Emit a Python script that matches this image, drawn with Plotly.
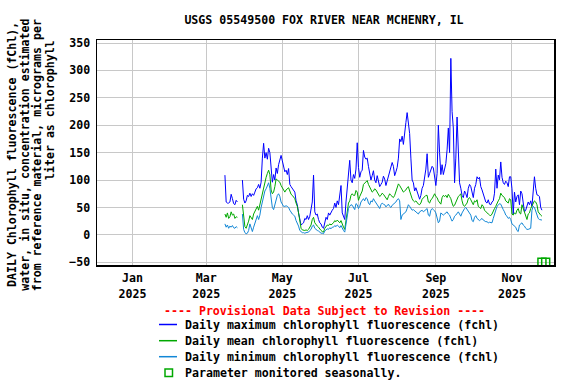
import plotly.graph_objects as go
import pandas as pd

# ---------------- data ----------------
start_date = "2025-03-16"
end_date = "2025-11-25"

daily_max = [
    109, 60, 58, 58, 60, 74, 66, 57, 55, 63, 60,
    None, None, None,
    100, 65, 58, 62, 72, 70, 76, 70, 75, 72, 78, 84, 86, 92, 85, 96, 140, 167, 140, 150,
    138, 158, 150, 120, 96, 110, 100, 122, 112, 128, 140, 145, 135, 125, 115, 118,
    110, 121, 92, 88, 85, 80, 78, 62, 55, 40, 25, 18, 20, 22, 30, 28, 35, 28, 34, 45,
    60, 109, 42, 36, 38, 28, 22, 20, 14, 12, 25, 32, 28, 40, 36, 42, 45, 48, 58, 50,
    62, 55, 75, 90, 40, 35, 28, 60, 90, 120, 136, 100, 95, 110, 103,
    120, 168, 123, 105, 115, 118, 154, 142, 138, 140, 125, 112, 100, 108, 117, 100, 95, 108,
    100, 88, 92, 96, 107, 102, 90, 98, 110, 115, 123, 132, 125, 108, 115, 123, 140, 175,
    170, 180, 165, 190, 205, 223, 200, 185, 140, 100, 95, 80, 86, 78, 68, 65, 72,
    85, 90, 102, 120, 148, 105, 112, 118, 125, 122, 105, 90, 112, 200, 150, 110, 128, 110,
    120, 130, 155, 195, 150, 322, 225, 195, 95, 140, 215, 130, 95, 85, 72, 68, 80, 75,
    68, 85, 92, 88, 78, 68, 85, 92, 106, 102, 105, 88, 82, 75, 70, 60, 58, 64,
    56, 55, 60, 62, 76, 120, 85, 109, 100, 133, 105, 95, 92, 98, 95, 88, 106, 106, 84, 38,
    78, 60, 70, 73, 55, 80, 75, 55, 42, 45, 55, 60, 55, 62, 52, 75, 106, 85, 73, 72,
    70, 50, 45,
]

daily_mean = [
    38, 32, 40, 30, 33, 42, 36, 38, 30, 33, 32,
    None, None, None,
    55, 30, 15, 12, 18, 25, 35, 30, 28, 38, 42, 48, 52, 45, 55, 66, 78, 90, 100, 105,
    112, 118, 110, 82, 75, 78, 88, 102, 100, 98, 96, 90, 85, 80, 78, 82,
    84, 86, 80, 74, 72, 68, 66, 58, 52, 40, 22, 12, 9, 8, 8, 9, 8, 10, 14, 18,
    28, 32, 22, 18, 16, 14, 10, 8, 6, 5, 12, 15, 18, 17, 20, 18, 20, 22, 26, 24,
    27, 24, 22, 26, 18, 14, 10, 25, 45, 58, 62, 72, 75, 72, 72,
    81, 78, 63, 70, 75, 80, 92, 95, 98, 99, 92, 88, 84, 78, 80, 84, 82, 78,
    75, 70, 72, 76, 74, 70, 66, 64, 70, 75, 72, 70, 68, 72, 80, 86, 93, 90,
    85, 80, 78, 80, 82, 86, 88, 80, 72, 66, 62, 60, 62, 58, 56, 55, 58,
    65, 68, 70, 72, 72, 60, 58, 64, 66, 72, 75, 70, 68, 62, 58, 56, 68, 72,
    70, 72, 68, 74, 70, 66, 58, 52, 54, 60, 64, 70, 72, 75, 62, 54, 52, 56,
    58, 66, 68, 64, 58, 55, 62, 60, 64, 52, 50, 48, 55, 52, 45, 42, 40, 38,
    36, 35, 38, 44, 48, 52, 58, 62, 66, 76, 72, 70, 68, 62, 60, 58, 66, 64, 38, 36,
    40, 38, 45, 48, 40, 38, 55, 48, 42, 32, 28, 38, 40, 48, 52, 58, 62, 60, 55, 42,
    38, 36, 34,
]

daily_min = [
    20, 14, 18, 12, 16, 14, 17, 13, 12, 15, 13,
    None, None, None,
    38, 10, 4, 2, 3, 8, 20, 12, 6, 14, 22, 30, 35, 28, 36, 50, 60, 74, 80, 84,
    90, 95, 85, 60, 50, 46, 55, 65, 72, 75, 70, 60, 55, 52, 52, 53,
    52, 50, 45, 40, 38, 36, 34, 26, 22, 16, 8, 5, 4, 4, 3, 4, 5, 5, 8, 10,
    16, 18, 12, 9, 8, 7, 4, 3, 3, 2, 7, 9, 11, 10, 13, 11, 14, 14, 17, 15,
    18, 16, 13, 17, 11, 8, 5, 18, 33, 48, 52, 55, 54, 50, 46,
    57, 55, 48, 52, 60, 64, 66, 62, 68, 66, 58, 55, 62, 60, 66, 62, 58, 56,
    50, 48, 55, 58, 56, 55, 51, 53, 56, 52, 50, 54, 56, 58, 60, 64, 66, 62,
    28, 36, 38, 40, 42, 48, 55, 52, 48, 45, 46, 44, 42, 40, 38, 42, 44,
    45, 42, 44, 47, 48, 36, 34, 45, 48, 46, 44, 40, 30, 22, 25, 40, 38, 36,
    38, 40, 42, 38, 36, 30, 25, 28, 34, 36, 40, 42, 38, 34, 40, 45, 48, 50,
    46, 42, 40, 36, 26, 24, 32, 35, 30, 28, 26, 28, 30, 27, 25, 24, 24, 22,
    23, 22, 22, 30, 38, 45, 52, 54, 57, 56, 50, 46, 42, 36, 34, 30, 32, 28, 20, 18,
    16, 14, 8, 6, 18, 20, 22, 18, 16, 12, 10, 10, 11, 12, 45, 52, 50, 42, 34, 30,
    28, 28, 27,
]

seasonal_dates = ["2025-11-25", "2025-11-28"]
seasonal_values = [-50, -50]

month_ticks = ["2025-01-01", "2025-03-01", "2025-05-01", "2025-07-01", "2025-09-01", "2025-11-01"]
month_labels = ["Jan<br>2025", "Mar<br>2025", "May<br>2025", "Jul<br>2025", "Sep<br>2025", "Nov<br>2025"]
y_ticks = [-50, 0, 50, 100, 150, 200, 250, 300, 350]

title_text = "USGS 05549500 FOX RIVER NEAR MCHENRY, IL"
y_title_lines = ["DAILY Chlorophyll fluorescence (fChl),",
                 "water, in situ, concentration estimated",
                 "from reference material, micrograms per",
                 "liter as chlorophyll"]
provisional_text = "---- Provisional Data Subject to Revision ----"
legend_labels = ["Daily maximum chlorophyll fluorescence (fchl)",
                 "Daily mean chlorophyll fluorescence (fchl)",
                 "Daily minimum chlorophyll fluorescence (fchl)"]
seasonal_label = "Parameter monitored seasonally."

# ---------------- styling ----------------
C_MAX = "#0000FF"
C_MEAN = "#00A800"
C_MIN = "#1287D6"
C_SEAS = "#00A800"
FONT = "DejaVu Sans Mono"
FS = 11.6

dates = pd.date_range(start_date, end_date, freq="D")

W, H = 576, 384
L, R, T, B = 97, 22, 40, 119
PW = W - L - R
PH = H - T - B


def px_x(x):
    return (x - L) / PW


def px_y(y):
    return (H - B - y) / PH


fig = go.Figure()
for vals, col in [(daily_max, C_MAX), (daily_mean, C_MEAN), (daily_min, C_MIN)]:
    fig.add_trace(go.Scatter(x=dates, y=vals, mode="lines",
                             line=dict(color=col, width=1), connectgaps=False,
                             showlegend=False, hoverinfo="skip"))

fig.add_trace(go.Scatter(x=seasonal_dates, y=seasonal_values, mode="markers",
                         marker=dict(symbol="square-open", size=8, color=C_SEAS,
                                     line=dict(width=1.5, color=C_SEAS)),
                         cliponaxis=False, showlegend=False, hoverinfo="skip"))

fig.update_layout(
    width=W, height=H,
    margin=dict(l=L, r=R, t=T, b=B, pad=0),
    paper_bgcolor="white", plot_bgcolor="white",
    font=dict(family=FONT, size=FS, color="black", weight="bold"),
    title=dict(text=title_text, x=px_x(324), xref="paper", xanchor="center",
               y=1 - 20 / H, yref="container", yanchor="middle",
               font=dict(family=FONT, size=FS, color="black", weight="bold")),
    showlegend=False,
)

fig.update_xaxes(
    type="date", range=["2024-12-03 12:00", "2025-12-04 16:00"],
    tickmode="array", tickvals=month_ticks, ticktext=month_labels,
    showgrid=True, gridcolor="#C8C8C8", gridwidth=1,
    showline=True, mirror=True, linecolor="black", linewidth=1.5,
    ticks="", ticklabelstandoff=2, zeroline=False,
)
fig.update_yaxes(
    range=[-55, 355.5], tickmode="array", tickvals=y_ticks,
    showgrid=True, gridcolor="#C8C8C8", gridwidth=1,
    showline=True, mirror=True, linecolor="black", linewidth=1.5,
    ticks="", ticklabelstandoff=3, zeroline=False,
)

ann = []
# y-axis title, one rotated line per column
col_x = [12, 24.7, 37.3, 50]
col_y = [155, 155, 155, 110]
for txt, cx, cy in zip(y_title_lines, col_x, col_y):
    ann.append(dict(text=txt, xref="paper", yref="paper",
                    x=px_x(cx), y=px_y(cy), xanchor="center", yanchor="middle",
                    textangle=-90, showarrow=False,
                    font=dict(family=FONT, size=FS, color="black", weight="bold")))

ann.append(dict(text=provisional_text, xref="paper", yref="paper",
                x=px_x(324), y=px_y(311), xanchor="center", yanchor="middle",
                showarrow=False,
                font=dict(family=FONT, size=FS, color="#FF0000", weight="bold")))

rows = [324.5, 340.7, 356.7]
shapes = []
for lab, col, ry in zip(legend_labels, [C_MAX, C_MEAN, C_MIN], rows):
    shapes.append(dict(type="line", xref="paper", yref="paper",
                       x0=px_x(159), x1=px_x(177), y0=px_y(ry), y1=px_y(ry),
                       line=dict(color=col, width=1.5)))
    ann.append(dict(text=lab, xref="paper", yref="paper", x=px_x(182.5), y=px_y(ry),
                    xanchor="left", yanchor="middle", showarrow=False,
                    font=dict(family=FONT, size=FS, color="black", weight="bold")))

shapes.append(dict(type="rect", xref="paper", yref="paper",
                   x0=px_x(165), x1=px_x(172.5), y0=px_y(369), y1=px_y(376.5),
                   line=dict(color=C_SEAS, width=1.5), fillcolor="rgba(0,0,0,0)"))
ann.append(dict(text=seasonal_label, xref="paper", yref="paper", x=px_x(182.5), y=px_y(372.7),
                xanchor="left", yanchor="middle", showarrow=False,
                font=dict(family=FONT, size=FS, color="black", weight="bold")))

fig.update_layout(annotations=ann, shapes=shapes)

fig.write_html("out.html",
               config={"displayModeBar": False, "staticPlot": True},
               post_script="document.body.style.margin='0';document.body.style.overflow='hidden';")
